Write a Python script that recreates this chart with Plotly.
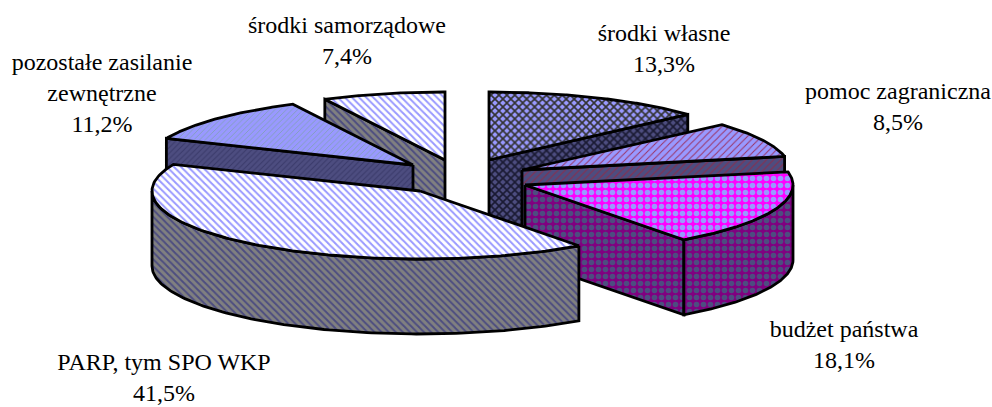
import numpy as np
import plotly.graph_objects as go

# --- data (clockwise from 12 o'clock) ---
categories = ["środki własne", "pomoc zagraniczna", "budżet państwa",
              "PARP, tym SPO WKP", "pozostałe zasilanie zewnętrzne", "środki samorządowe"]
shares = [13.3, 8.5, 18.1, 41.5, 11.2, 7.4]

# --- drawing style / layout of the exploded 3D pie ---
RX, RY, DEPTH = 268, 68, 75
apex_x = [489, 522, 525, 420, 413, 445]
apex_y = [160, 170, 185, 191, 165, 160]
paint_order = [5, 0, 4, 1, 2, 3]

top_style = [
    dict(shape="x", bg="#9999FF", fg="#333333", size=5.6, solidity=0.5),
    dict(shape="/", bg="#9999FF", fg="#993366", size=5, solidity=0.2),
    dict(shape=".", bg="#FF00FF", fg="#9999FF", size=7, solidity=0.5),
    dict(shape="\\", bg="#FFFFFF", fg="#9999FF", size=5, solidity=0.4),
    dict(shape="/", bg="#9999FF", fg="#7FA0B0", size=4, solidity=0.2),
    dict(shape="\\", bg="#FFFFFF", fg="#9999FF", size=5, solidity=0.4),
]
wall_style = [
    dict(shape="x", bg="#4D4D80", fg="#1A1A33", size=5.6, solidity=0.5),
    dict(shape="/", bg="#4D4D80", fg="#803355", size=5, solidity=0.25),
    dict(shape=".", bg="#800080", fg="#4D4D80", size=7, solidity=0.5),
    dict(shape="\\", bg="#808080", fg="#4D4D80", size=5, solidity=0.4),
    dict(shape="/", bg="#4D4D80", fg="#3A3A6A", size=4, solidity=0.25),
    dict(shape="\\", bg="#808080", fg="#4D4D80", size=5, solidity=0.4),
]

label_lines = [["środki własne"], ["pomoc zagraniczna"], ["budżet państwa"],
               ["PARP, tym SPO WKP"], ["pozostałe zasilanie", "zewnętrzne"], ["środki samorządowe"]]
label_x = [664, 898, 844, 164, 102, 347]
label_y = [35, 93, 331, 364, 64, 27]
LINE_STEP = 31


def pattern(s):
    return dict(shape=s["shape"], bgcolor=s["bg"], fgcolor=s["fg"], size=s["size"],
                solidity=s["solidity"], fillmode="replace")


def poly(fig, xs, ys, style):
    fig.add_trace(go.Scatter(x=xs, y=ys, mode="lines", fill="toself", fillpattern=pattern(style),
                             line=dict(color="black", width=2.8, shape="linear"),
                             hoverinfo="skip", showlegend=False))


total = sum(shares)
edges = np.concatenate([[0], np.cumsum(shares)]) / total * 2 * np.pi

fig = go.Figure()
for i in paint_order:
    a0, a1 = edges[i], edges[i + 1]
    ax, ay = apex_x[i], apex_y[i]

    def ex(t):
        return ax + RX * np.sin(t)

    def ey(t):
        return ay - RY * np.cos(t)

    # radial cut faces that look toward the viewer
    if np.sin(a1) > 1e-6 and a1 < np.pi:
        poly(fig, [ax, ex(a1), ex(a1), ax, ax],
             [ay, ey(a1), ey(a1) + DEPTH, ay + DEPTH, ay], wall_style[i])
    if a0 > np.pi:
        poly(fig, [ax, ex(a0), ex(a0), ax, ax],
             [ay, ey(a0), ey(a0) + DEPTH, ay + DEPTH, ay], wall_style[i])
    # outer rim: only the part facing the viewer (pi/2 .. 3pi/2)
    w0, w1 = max(a0, np.pi / 2), min(a1, 3 * np.pi / 2)
    if w1 > w0:
        t = np.linspace(w0, w1, 120)
        xs = np.concatenate([ex(t), ex(t[::-1]), [ex(t[0])]])
        ys = np.concatenate([ey(t), ey(t[::-1]) + DEPTH, [ey(t[0])]])
        poly(fig, xs, ys, wall_style[i])
    # top face
    t = np.linspace(a0, a1, 160)
    poly(fig, np.concatenate([[ax], ex(t), [ax]]), np.concatenate([[ay], ey(t), [ay]]), top_style[i])

tx, ty, tt = [], [], []
for i, lines in enumerate(label_lines):
    rows = lines + [f"{shares[i]:.1f}%".replace(".", ",")]
    for j, row in enumerate(rows):
        tx.append(label_x[i])
        ty.append(label_y[i] + j * LINE_STEP)
        tt.append(row)
fig.add_trace(go.Scatter(x=tx, y=ty, text=tt, mode="text", textposition="middle center",
                         textfont=dict(family="Liberation Serif", size=24, color="black"),
                         cliponaxis=False, hoverinfo="skip", showlegend=False))

fig.update_layout(width=992, height=407, margin=dict(l=0, r=0, t=0, b=0),
                  paper_bgcolor="white", plot_bgcolor="white",
                  xaxis=dict(range=[0, 992], visible=False, fixedrange=True),
                  yaxis=dict(range=[407, 0], visible=False, fixedrange=True))
fig.write_html("out.html", config={"displayModeBar": False},
               post_script="document.body.style.margin='0';")
